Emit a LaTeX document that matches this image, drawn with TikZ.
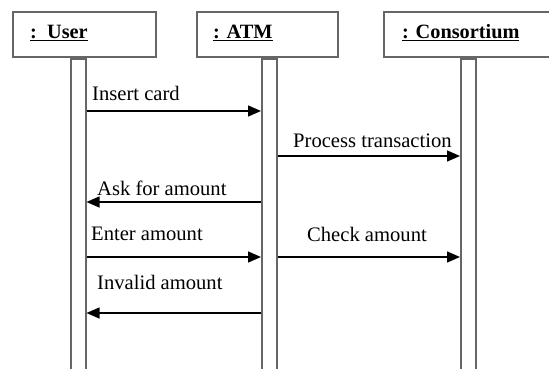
\documentclass[tikz,border=0pt]{standalone}
\usepackage{fontspec}
\setmainfont{Liberation Serif}
\usetikzlibrary{arrows.meta,calc}
\begin{document}
\begin{tikzpicture}[x=1pt,y=-1pt,
  objbox/.style={draw=black!60,line width=1.6pt,fill=white,anchor=north west,inner sep=0pt},
  title/.style={anchor=west,inner sep=0pt,font=\fontsize{20.3}{22}\selectfont\bfseries},
  lifebar/.style={draw=black!60,line width=1.5pt,fill=white,anchor=north west,inner sep=0pt,minimum width=15,minimum height=330},
  msg/.style={line width=1.4pt,-{Triangle[length=13pt,width=11pt]}},
  lbl/.style={anchor=west,inner sep=0pt,font=\fontsize{20.6}{22}\selectfont}]
\useasboundingbox (0,0) rectangle (549,369);
\clip (0,0) rectangle (549,369);
% object boxes
\node[objbox,minimum width=143,minimum height=45] (ubox) at (12,11) {};
\node[objbox,minimum width=141,minimum height=45] (abox) at (196,11) {};
\node[objbox,minimum width=180,minimum height=45] (cbox) at (383,11) {};
\node[title] (ut) at (30,33) {\underline{:\ \ User}};
\node[title] (at) at (213,33) {\underline{: ATM}};
\node[title] (ct) at (402,33) {\underline{: Consortium}};
% lifelines / activation bars
\node[lifebar] (ubar) at (70,57) {};
\node[lifebar] (abar) at (261,57) {};
\node[lifebar] (cbar) at (460,57) {};
\fill[black!60] (ubar.north west) rectangle ($(ubar.north east)+(0,3)$);
\fill[black!60] (abar.north west) rectangle ($(abar.north east)+(0,3)$);
\fill[black!60] (cbar.north west) rectangle ($(cbar.north east)+(0,3)$);
% message rows
\coordinate (r1) at (0,111);
\coordinate (r2) at (0,156);
\coordinate (r3) at (0,202);
\coordinate (r4) at (0,257);
\coordinate (r5) at (0,313);
\draw[msg] (ubar.east |- r1) -- (abar.west |- r1);
\draw[msg] (abar.east |- r2) -- (cbar.west |- r2);
\draw[msg] (abar.west |- r3) -- (ubar.east |- r3);
\draw[msg] (ubar.east |- r4) -- (abar.west |- r4);
\draw[msg] (abar.east |- r4) -- (cbar.west |- r4);
\draw[msg] (abar.west |- r5) -- (ubar.east |- r5);
% labels
\node[lbl] (l1) at (92,93) {Insert card};
\node[lbl] (l2) at (293,141) {Process transaction};
\node[lbl] (l3) at (97,188) {Ask for amount};
\node[lbl] (l4) at (91,234) {Enter amount};
\node[lbl] (l5) at (307,234) {Check amount};
\node[lbl] (l6) at (97,282) {Invalid amount};
\end{tikzpicture}
\end{document}
